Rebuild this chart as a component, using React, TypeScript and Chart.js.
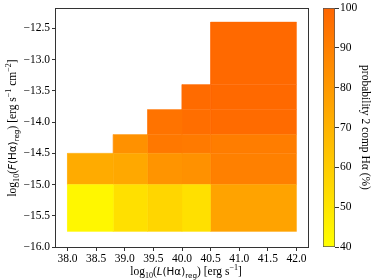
import React, { useEffect, useRef } from 'react';
import { Chart, registerables } from 'chart.js';

Chart.register(...registerables);

// ---- data -----------------------------------------------------------------
const xEdges = [38.0, 38.8, 39.4, 40.0, 40.5, 42.0];
const yEdges = [-15.75, -15.0, -14.5, -14.2, -13.8, -13.4, -12.4];
// probability (%) of 2-component Hα per bin; rows bottom→top, columns left→right
const probRow1 = [43, 52, 56, 52, 76];
const probRow2 = [73, 74, 82, 83, 90];
const probRow3 = [null, 83, 93, 92, 91];
const probRow4 = [null, null, 95, 97, 98];
const probRow5 = [null, null, null, 98, 99];
const probRow6 = [null, null, null, null, 99];
const probRows = [probRow1, probRow2, probRow3, probRow4, probRow5, probRow6];

const xTicks = [38.0, 38.5, 39.0, 39.5, 40.0, 40.5, 41.0, 41.5, 42.0];
const yTicks = [-16.0, -15.5, -15.0, -14.5, -14.0, -13.5, -13.0, -12.5];
const cbarTicks = [40, 50, 60, 70, 80, 90, 100];
const xLimits = [37.8, 42.2];
const yLimits = [-16.0, -12.19];
const cbarLimits = [40, 100];
const cbarLabel = 'probability 2 comp Hα (%)';

// ---- styling ----------------------------------------------------------------
const SERIF = '"Liberation Serif", "Times New Roman", serif';
const SANS = '"DejaVu Sans", "Liberation Sans", sans-serif';
const FS = 11.5;

function cmap(v: number): string {
  const t = Math.max(0, Math.min(1, (v - cbarLimits[0]) / (cbarLimits[1] - cbarLimits[0])));
  const g = Math.round(255 - 153 * t);
  return `rgb(255,${g},0)`;
}

const fmtTick = (v: number) => (v < 0 ? '\u2212' : '') + Math.abs(v).toFixed(1);

type Seg = { t: string; sans?: boolean; italic?: boolean; sub?: boolean; sup?: boolean };

const xTitle: Seg[] = [
  { t: 'log' }, { t: '10', sub: true }, { t: '(' }, { t: 'L', sans: true, italic: true },
  { t: '(Hα)', sans: true }, { t: 'reg', sans: true, sub: true }, { t: ')' },
  { t: ' [erg s' }, { t: '\u22121', sup: true }, { t: ']' },
];
const yTitle: Seg[] = [
  { t: 'log' }, { t: '10', sub: true }, { t: '(' }, { t: 'F', sans: true, italic: true },
  { t: '(Hα)', sans: true }, { t: 'reg', sans: true, sub: true }, { t: ')' },
  { t: ' [erg s' }, { t: '\u22121', sup: true }, { t: ' cm' }, { t: '\u22122', sup: true }, { t: ']' },
];

function segFont(s: Seg, base: number) {
  let size = s.sub || s.sup ? base * 0.7 : base;
  if (s.sans) size *= 0.9;
  return `${s.italic ? 'italic ' : ''}${size}px ${s.sans ? SANS : SERIF}`;
}

function drawRich(ctx: CanvasRenderingContext2D, segs: Seg[], cx: number, cy: number, rot: number, base: number) {
  ctx.save();
  ctx.translate(cx, cy);
  ctx.rotate(rot);
  ctx.textBaseline = 'alphabetic';
  ctx.textAlign = 'left';
  ctx.fillStyle = '#000';
  const widths = segs.map((s) => {
    ctx.font = segFont(s, base);
    return ctx.measureText(s.t).width;
  });
  const total = widths.reduce((a, b) => a + b, 0);
  let x = -total / 2;
  const by = base * 0.33;
  segs.forEach((s, i) => {
    ctx.font = segFont(s, base);
    let dy = 0;
    if (s.sub) dy = base * 0.25;
    if (s.sup) dy = -base * 0.42;
    ctx.fillText(s.t, x, by + dy);
    x += widths[i];
  });
  ctx.restore();
}

const framePlugin = {
  id: 'frameAndTitles',
  afterDraw(chart: any) {
    const { ctx, chartArea: a } = chart;
    ctx.save();
    ctx.strokeStyle = '#333';
    ctx.lineWidth = 1;
    ctx.strokeRect(Math.round(a.left) - 0.5, Math.round(a.top) - 0.5, Math.round(a.right - a.left) + 1, Math.round(a.bottom - a.top) + 1);
    ctx.restore();
    drawRich(ctx, xTitle, (a.left + a.right) / 2 + 4, 271, 0, FS);
    drawRich(ctx, yTitle, 12.5, (a.top + a.bottom) / 2, -Math.PI / 2, FS);
  },
};

function buildCells() {
  const ds: any[] = [];
  probRows.forEach((row, j) => {
    row.forEach((v, i) => {
      if (v === null) return;
      const x0 = xEdges[i], x1 = xEdges[i + 1], y0 = yEdges[j], y1 = yEdges[j + 1];
      const c = cmap(v);
      ds.push({
        label: `bin ${i},${j}`,
        data: [
          { x: x0, y: y0 }, { x: x1, y: y0 }, { x: x1, y: y1 }, { x: x0, y: y1 }, { x: x0, y: y0 },
        ],
        fill: 'shape',
        backgroundColor: c,
        borderColor: c,
        borderWidth: 0.4,
        pointRadius: 0,
        pointHoverRadius: 0,
        tension: 0,
      });
    });
  });
  return ds;
}

export default function App() {
  const mainRef = useRef<HTMLCanvasElement>(null);
  const cbarRef = useRef<HTMLCanvasElement>(null);

  useEffect(() => {
    const tickFont = { family: SERIF, size: FS };
    const main = new Chart(mainRef.current!, {
      type: 'line',
      data: { datasets: buildCells() },
      options: {
        animation: false,
        responsive: false,
        events: [],
        layout: { padding: { top: 8, right: 8, left: 0, bottom: 0 } },
        plugins: { legend: { display: false }, tooltip: { enabled: false } },
        scales: {
          x: {
            type: 'linear',
            min: xLimits[0],
            max: xLimits[1],
            afterBuildTicks: (s: any) => { s.ticks = xTicks.map((v) => ({ value: v })); },
            afterFit: (s: any) => { s.height = 33; },
            ticks: { font: tickFont, color: '#000', padding: 1, autoSkip: false, maxRotation: 0, callback: (v: any) => fmtTick(Number(v)) },
            grid: { drawOnChartArea: false, drawTicks: true, tickLength: 4, color: '#333' },
            border: { display: false },
          },
          y: {
            type: 'linear',
            min: yLimits[0],
            max: yLimits[1],
            afterBuildTicks: (s: any) => { s.ticks = yTicks.map((v) => ({ value: v })); },
            afterFit: (s: any) => { s.width = 56; },
            ticks: { font: tickFont, color: '#000', padding: 2, autoSkip: false, callback: (v: any) => fmtTick(Number(v)) },
            grid: { drawOnChartArea: false, drawTicks: true, tickLength: 4, color: '#333' },
            border: { display: false },
          },
        },
      },
      plugins: [framePlugin],
    } as any);

    const cbar = new Chart(cbarRef.current!, {
      type: 'bar',
      data: {
        labels: ['cbar'],
        datasets: [{
          data: [[cbarLimits[0], cbarLimits[1]]] as any,
          backgroundColor: (ctx: any) => {
            const ch = ctx.chart;
            const ys = ch.scales.y;
            if (!ys || !ch.chartArea) return cmap(70);
            const g = ch.ctx.createLinearGradient(0, ys.getPixelForValue(cbarLimits[0]), 0, ys.getPixelForValue(cbarLimits[1]));
            for (let k = 0; k <= 10; k++) {
              const v = cbarLimits[0] + (k / 10) * (cbarLimits[1] - cbarLimits[0]);
              g.addColorStop(k / 10, cmap(v));
            }
            return g;
          },
          borderColor: '#555',
          borderWidth: 1,
          borderSkipped: false,
          barPercentage: 1,
          categoryPercentage: 1,
        }],
      },
      options: {
        animation: false,
        responsive: false,
        events: [],
        layout: { padding: { top: 8, left: 7, right: 0, bottom: 33 } },
        plugins: { legend: { display: false }, tooltip: { enabled: false } },
        scales: {
          x: { display: false },
          y: {
            position: 'right',
            min: cbarLimits[0],
            max: cbarLimits[1],
            afterBuildTicks: (s: any) => { s.ticks = cbarTicks.map((v) => ({ value: v })); },
            afterFit: (s: any) => { s.width = 39; },
            ticks: { font: tickFont, color: '#000', padding: 1 },
            grid: { drawOnChartArea: false, drawTicks: true, tickLength: 4, color: '#333' },
            border: { display: false },
            title: { display: true, text: cbarLabel, font: { family: SERIF, size: FS }, color: '#000', padding: { top: 2, bottom: 0 } },
          },
        },
      },
    } as any);

    return () => {
      main.destroy();
      cbar.destroy();
    };
  }, []);

  return (
    <div style={{ position: 'fixed', left: 0, top: 0, width: 374, height: 280, background: '#fff' }}>
      <canvas ref={mainRef} width={316} height={280} style={{ position: 'absolute', left: 0, top: 0 }} />
      <canvas ref={cbarRef} width={58} height={280} style={{ position: 'absolute', left: 316, top: 0 }} />
    </div>
  );
}
